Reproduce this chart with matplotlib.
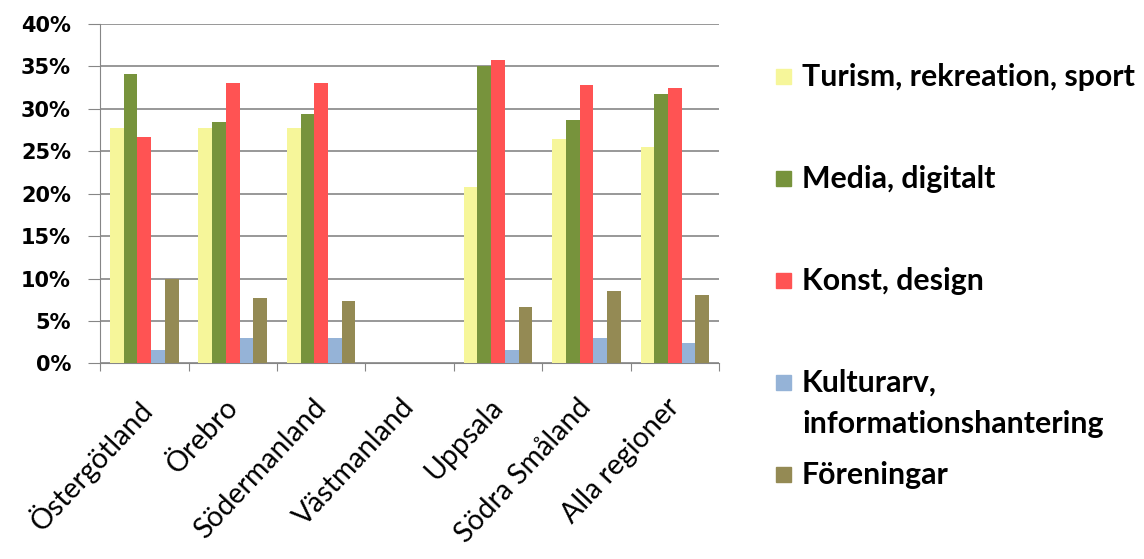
import matplotlib
matplotlib.use("Agg")
import matplotlib.pyplot as plt
import matplotlib.patches as patches
import numpy as np

regioner = ["Östergötland", "Örebro", "Södermanland", "Västmanland",
            "Uppsala", "Södra Småland", "Alla regioner"]
serier = ["Turism, rekreation, sport", "Media, digitalt", "Konst, design",
          "Kulturarv,\ninformationshantering", "Föreningar"]

turism = [27.7, 27.7, 27.8, 0, 20.8, 26.5, 25.5]
media = [34.1, 28.4, 29.4, 0, 35.0, 28.7, 31.8]
konst = [26.7, 33.1, 33.1, 0, 35.8, 32.8, 32.5]
kulturarv = [1.6, 3.0, 3.0, 0, 1.6, 3.0, 2.4]
foreningar = [9.9, 7.7, 7.3, 0, 6.7, 8.5, 8.0]

farger = ["#f6f69a", "#77933c", "#ff5353", "#95b3d7", "#948a54"]

W, H = 1144, 559
fig = plt.figure(figsize=(W / 100, H / 100), dpi=100)
ax = fig.add_axes([0.0875, 0.350, 0.541, 0.607])

x = np.arange(len(regioner))
w = 0.155
data = [turism, media, konst, kulturarv, foreningar]
for i, (vals, c) in enumerate(zip(data, farger)):
    ax.bar(x + (i - 2) * w, vals, width=w, color=c, zorder=3)

ax.set_xlim(-0.5, len(regioner) - 0.5)
ax.set_ylim(0, 40)
ax.set_yticks(np.arange(0, 41, 5))
ax.set_yticklabels([f"{v}%" for v in range(0, 41, 5)],
                   fontfamily="DejaVu Sans", fontweight="bold", fontsize=15)
ax.yaxis.grid(True, color="#868686", linewidth=1.2, zorder=0)

ax.set_xticks(np.arange(-0.5, len(regioner), 1))
ax.set_xticklabels([])
ax.tick_params(axis="x", length=6, color="#868686")
ax.tick_params(axis="y", length=9, color="#868686", pad=12)
for i, r in enumerate(regioner):
    ax.text(i - 0.1, -3.6, r, rotation=47, ha="right", va="top",
            rotation_mode="anchor", fontfamily="Lato", fontsize=20.5,
            transform=ax.transData)

for s in ["top", "right"]:
    ax.spines[s].set_visible(False)
ax.spines["left"].set_color("#868686")
ax.spines["bottom"].set_color("#868686")

# legend, placed by hand like the Excel original
leg_top = [73, 175, 277, 379, 471]   # pixel rows from the top
for lab, c, yt in zip(serier, farger, leg_top):
    fig.patches.append(patches.Rectangle((776 / W, 1 - (yt + 11) / H), 15 / W, 15 / H,
                                         transform=fig.transFigure, color=c))
    fig.text(802 / W, 1 - (yt - 10) / H, lab, fontfamily="Lato", fontweight="bold",
             fontsize=21.8, va="top", ha="left", linespacing=1.55)

fig.savefig("out.png", dpi=100)
